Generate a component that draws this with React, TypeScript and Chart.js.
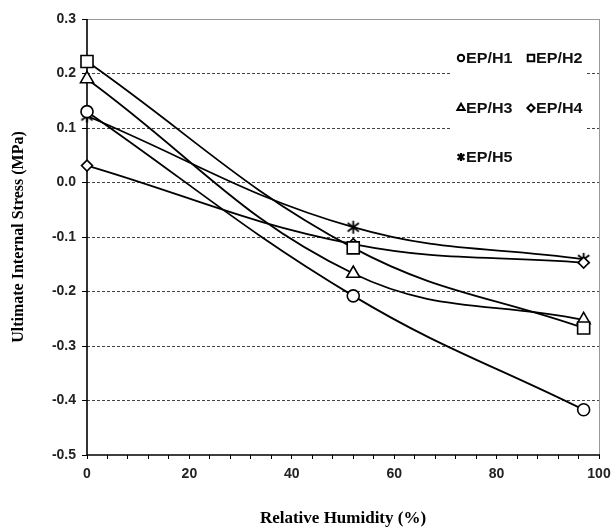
import React, { useEffect, useRef } from 'react';
import { Chart, registerables } from 'chart.js';
import { drawPoint } from 'chart.js/helpers';

Chart.register(...registerables);

// ---- data ----
const humidity = [0, 52, 97];
const epH1 = [0.13, -0.208, -0.417];
const epH2 = [0.222, -0.12, -0.267];
const epH3 = [0.19, -0.167, -0.252];
const epH4 = [0.031, -0.113, -0.147];
const epH5 = [0.122, -0.082, -0.141];
const seriesNames = ['EP/H1', 'EP/H2', 'EP/H3', 'EP/H4', 'EP/H5'];
const seriesValues = [epH1, epH2, epH3, epH4, epH5];
const xLabelValues = [0, 20, 40, 60, 80, 100];
const yMin = -0.5;
const yMax = 0.3;

const SANS = "'Liberation Sans', Arial, Helvetica, sans-serif";
const SERIF = "'Liberation Serif', 'Times New Roman', serif";

function makeAsterisk(size: number, lw: number) {
  const c = document.createElement('canvas');
  c.width = size;
  c.height = size;
  const g = c.getContext('2d')!;
  const m = size / 2;
  const r = size / 2 - 1;
  g.strokeStyle = '#000';
  g.lineWidth = lw;
  g.lineCap = 'butt';
  g.beginPath();
  g.moveTo(m, m - r);
  g.lineTo(m, m + r);
  const dx = r * Math.cos(Math.PI / 6);
  const dy = r * Math.sin(Math.PI / 6) * 1.3;
  g.moveTo(m - dx, m - dy);
  g.lineTo(m + dx, m + dy);
  g.moveTo(m - dx, m + dy);
  g.lineTo(m + dx, m - dy);
  g.stroke();
  return c;
}

const frame = {
  id: 'frame',
  beforeDatasetsDraw(chart: any) {
    const { ctx, chartArea: a } = chart;
    ctx.save();
    ctx.lineWidth = 1;
    ctx.strokeStyle = '#9a9a9a';
    ctx.beginPath();
    ctx.moveTo(a.left, a.top + 0.5);
    ctx.lineTo(a.right, a.top + 0.5);
    ctx.moveTo(a.right + 0.5, a.top);
    ctx.lineTo(a.right + 0.5, a.bottom);
    ctx.stroke();
    ctx.lineWidth = 1.6;
    ctx.strokeStyle = '#000';
    ctx.beginPath();
    ctx.moveTo(a.left, a.top);
    ctx.lineTo(a.left, a.bottom);
    ctx.lineTo(a.right + 1, a.bottom);
    ctx.stroke();
    ctx.restore();
  },
};

export default function App() {
  const ref = useRef<HTMLCanvasElement | null>(null);
  useEffect(() => {
    if (!ref.current) return;
    const bigStar = makeAsterisk(15, 1.8);
    const smallStar = makeAsterisk(10, 2.2);
    const markerStyles: any[] = ['circle', 'rect', 'triangle', 'rectRot', bigStar];
    const legendStyles: any[] = ['circle', 'rect', 'triangle', 'rectRot', smallStar];
    const markerRadius = [6, 8.5, 7.5, 5.5, 7];
    const legendRadius = [3.2, 4.6, 4.2, 3.6, 5];

    const legendBox = {
      id: 'legendBox',
      afterDatasetsDraw(chart: any) {
        const { ctx } = chart;
        const rows = [58, 108, 157];
        const markX = [461, 531];
        const textX = [466, 536];
        ctx.save();
        ctx.fillStyle = '#fff';
        ctx.fillRect(451, 26, 136, 146);
        ctx.textBaseline = 'middle';
        ctx.textAlign = 'left';
        seriesNames.forEach((name, i) => {
          const r = rows[Math.floor(i / 2)];
          const c = i % 2;
          ctx.fillStyle = '#fff';
          ctx.strokeStyle = '#000';
          ctx.lineWidth = 2;
          drawPoint(ctx, { pointStyle: legendStyles[i], radius: legendRadius[i], rotation: 0, borderWidth: 2 } as any, markX[c], r);
          ctx.save();
          ctx.translate(textX[c], r + 1);
          ctx.scale(1.15, 1);
          ctx.font = `bold 14px ${SANS}`;
          ctx.fillStyle = '#111';
          ctx.fillText(name, 0, 0);
          ctx.restore();
        });
        ctx.restore();
      },
    };

    const datasets = seriesNames.map((name, i) => ({
      label: name,
      data: humidity.map((h, j) => ({ x: h, y: seriesValues[i][j] })),
      borderColor: '#000',
      borderWidth: 1.8,
      backgroundColor: '#fff',
      pointStyle: markerStyles[i],
      pointRadius: markerRadius[i],
      pointBorderWidth: 1.6,
      pointBorderColor: '#000',
      pointBackgroundColor: '#fff',
      tension: 0.4,
      fill: false,
      clip: false,
    }));
    const chart = new Chart(ref.current, {
      type: 'line',
      data: { datasets },
      plugins: [frame, legendBox],
      options: {
        responsive: false,
        animation: false,
        layout: { padding: { top: 19, right: 13, left: 0, bottom: 0 } },
        plugins: { legend: { display: false }, tooltip: { enabled: false } },
        scales: {
          x: {
            type: 'linear',
            min: 0,
            max: 100,
            afterFit: (s: any) => { s.height = 72; s.paddingRight = 0; s.paddingLeft = 0; },
            ticks: {
              stepSize: 4,
              autoSkip: false,
              maxRotation: 0,
              padding: 7,
              color: '#222',
              font: { family: SANS, size: 14, weight: 'bold' },
              callback: (v: any) => (xLabelValues.includes(Number(v)) ? String(v) : ''),
            },
            grid: { drawOnChartArea: false, color: '#000', tickLength: 4, lineWidth: 1 },
            border: { display: false },
            title: {
              display: true,
              text: 'Relative Humidity (%)',
              color: '#000',
              font: { family: SERIF, size: 17, weight: 'bold' },
              padding: { top: 0, bottom: -2 },
            },
          },
          y: {
            type: 'linear',
            min: yMin,
            max: yMax,
            afterFit: (s: any) => { s.width = 87; s.paddingTop = 0; s.paddingBottom = 0; },
            ticks: {
              stepSize: 0.1,
              padding: 6,
              color: '#222',
              font: { family: SANS, size: 14, weight: 'bold' },
              callback: (v: any) => Number(v).toFixed(1),
            },
            grid: {
              color: (c: any) => {
                const v = c.tick ? c.tick.value : 0;
                return Math.abs(v - yMax) < 1e-6 || Math.abs(v - yMin) < 1e-6 ? 'rgba(0,0,0,0)' : '#444';
              },
              tickColor: '#000',
              tickLength: 5,
              lineWidth: 1,
            },
            border: { display: false, dash: [3, 2] },
            title: {
              display: true,
              text: 'Ultimate Internal Stress (MPa)',
              color: '#000',
              font: { family: SERIF, size: 16, weight: 'bold' },
              padding: { top: 9, bottom: 0 },
            },
          },
        },
      } as any,
    });
    return () => chart.destroy();
  }, []);
  return (
    <div style={{ position: 'fixed', left: 0, top: 0, width: 612, height: 527, background: '#fff' }}>
      <canvas ref={ref} width={612} height={527} style={{ display: 'block' }} />
    </div>
  );
}
